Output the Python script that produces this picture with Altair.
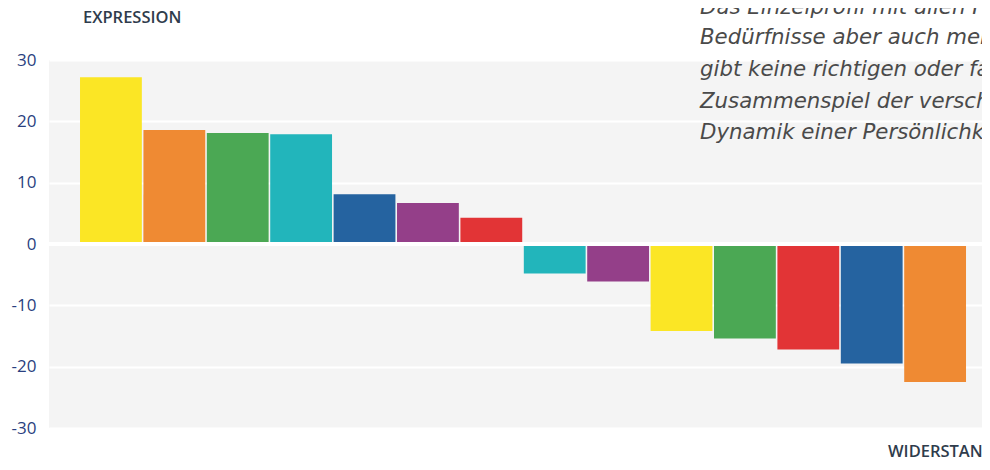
import altair as alt
import pandas as pd

# ---- data ----
categories = [f"F{i}" for i in range(1, 15)]
values = [27.2, 18.6, 18.1, 17.9, 8.1, 6.7, 4.3,
          -4.8, -6.1, -14.2, -15.4, -17.2, -19.5, -22.5]
bar_colors = ["#FBE625", "#EF8A33", "#4BA854", "#22B5BB", "#2563A0", "#943F89", "#E23436",
              "#22B5BB", "#943F89", "#FBE625", "#4BA854", "#E23436", "#2563A0", "#EF8A33"]
y_ticks = [-30, -20, -10, 0, 10, 20, 30]
zero_line = [0]
y_title_top = "EXPRESSION"
y_title_bottom = "WIDERSTAND"
note_lines = [
    "Das Einzelprofil mit allen Facetten zeigt meine",
    "Bedürfnisse aber auch meine Stärken. Es",
    "gibt keine richtigen oder falschen Profile, das",
    "Zusammenspiel der verschiedenen Facetten zeigt die",
    "Dynamik einer Persönlichkeit.",
]

df = pd.DataFrame({"cat": categories, "value": values, "color": bar_colors})

PLOT_W = 933
PLOT_H = 368

y_scale = alt.Scale(domain=[-30, 30], nice=False, zero=True)

bars = alt.Chart(df).mark_bar().encode(
    x=alt.X("cat:N", sort=categories, axis=None,
            scale=alt.Scale(paddingInner=0.025, paddingOuter=0.3706, align=0.66)),
    y=alt.Y("value:Q", scale=y_scale,
            axis=alt.Axis(values=y_ticks, title=None, domain=False, ticks=False,
                          grid=True, gridColor="#FFFFFF", gridWidth=2,
                          labelExpr="'' + datum.value",
                          labelFont="Open Sans", labelFontSize=17, labelColor="#2A3F80",
                          labelPadding=13)),
    color=alt.Color("color:N", scale=None),
)

zero_rule = alt.Chart(pd.DataFrame({"z": zero_line})).mark_rule(
    color="#FFFFFF", strokeWidth=4
).encode(y=alt.Y("z:Q", scale=y_scale))

layers = [bars, zero_rule]

layers.append(
    alt.Chart(pd.DataFrame({"t": [y_title_top]})).mark_text(
        align="left", baseline="middle", font="Open Sans", fontWeight=600,
        fontSize=16.5, color="#2F3C4C"
    ).encode(x=alt.value(34), y=alt.value(-42), text="t:N")
)
layers.append(
    alt.Chart(pd.DataFrame({"t": [y_title_bottom]})).mark_text(
        align="left", baseline="middle", font="Open Sans", fontWeight=600,
        fontSize=16.5, color="#2F3C4C"
    ).encode(x=alt.value(839), y=alt.value(392), text="t:N")
)

note_y = [-52, -22, 10, 42, 73]
for line, yy in zip(note_lines, note_y):
    layers.append(
        alt.Chart(pd.DataFrame({"t": [line]})).mark_text(
            align="left", baseline="middle", font="DejaVu Sans", fontStyle="italic",
            fontSize=21.3, color="#4A4A4A"
        ).encode(x=alt.value(651), y=alt.value(yy), text="t:N")
    )

chart = alt.layer(*layers).properties(
    width=PLOT_W, height=PLOT_H,
    autosize=alt.AutoSizeParams(type="none"),
    padding={"left": 41, "top": 52, "right": 0, "bottom": 30},
    background="#FFFFFF",
).configure_view(fill="#F4F4F4", stroke=None)

chart.save("out.html", embed_options={"renderer": "svg", "actions": False})
